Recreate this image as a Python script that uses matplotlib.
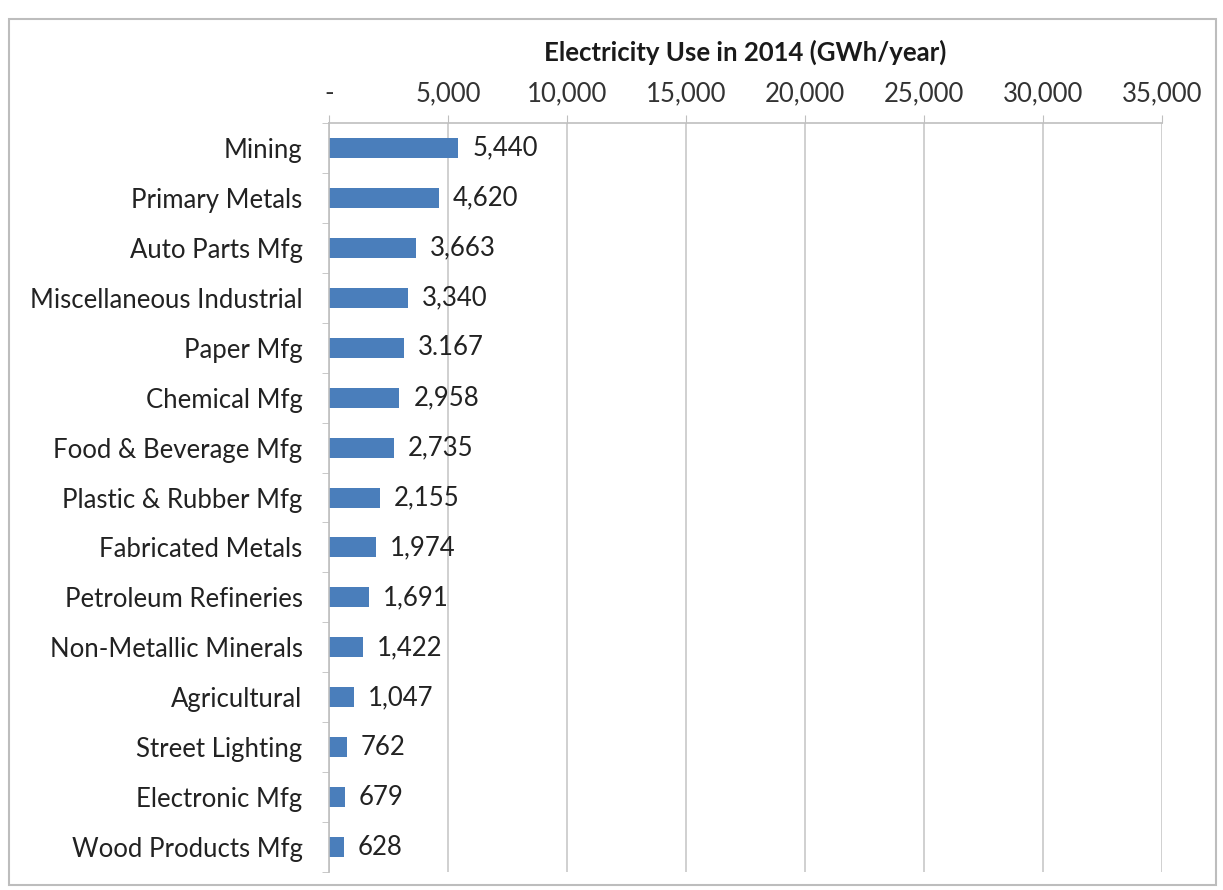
import matplotlib
matplotlib.use("Agg")
import matplotlib.pyplot as plt
from matplotlib.patches import Rectangle
from matplotlib.ticker import FuncFormatter, FixedLocator

# Electricity use by industry in 2014 (GWh/year)
categories = ["Mining", "Primary Metals", "Auto Parts Mfg", "Miscellaneous Industrial",
              "Paper Mfg", "Chemical Mfg", "Food & Beverage Mfg", "Plastic & Rubber Mfg",
              "Fabricated Metals", "Petroleum Refineries", "Non-Metallic Minerals",
              "Agricultural", "Street Lighting", "Electronic Mfg", "Wood Products Mfg"]
values = [5440, 4620, 3663, 3340, 3167, 2958, 2735, 2155, 1974, 1691, 1422, 1047, 762, 679, 628]
value_labels = ["5,440", "4,620", "3,663", "3,340", "3.167", "2,958", "2,735", "2,155",
                "1,974", "1,691", "1,422", "1,047", "762", "679", "628"]
x_ticks = [0, 5000, 10000, 15000, 20000, 25000, 30000, 35000]

plt.rcParams['font.family'] = ['Lato', 'DejaVu Sans']
FS = 18.5

fig = plt.figure(figsize=(12.23, 8.90), dpi=100)
ax = fig.add_axes([0.269, 0.020, 0.681, 0.842])

pos = list(range(len(categories)))
ax.barh(pos, values, height=0.4, color="#4a7ebb")
ax.set_ylim(len(categories) - 0.5, -0.5)
ax.set_xlim(0, 35000)

ax.xaxis.tick_top()
ax.xaxis.set_label_position("top")
ax.set_xticks(x_ticks)
ax.xaxis.set_major_formatter(FuncFormatter(lambda v, p: "-" if v == 0 else f"{int(v):,}"))
ax.set_xlabel("Electricity Use in 2014 (GWh/year)", fontsize=FS, fontweight="bold",
              color="#1a1a1a", labelpad=15)
ax.tick_params(axis="x", length=6, color="#bfbfbf", labelsize=FS, labelcolor="#333333", pad=6)

ax.set_yticks(pos)
ax.set_yticklabels(categories)
ax.tick_params(axis="y", which="major", length=0, labelsize=FS, labelcolor="#222222", pad=19)
ax.yaxis.set_minor_locator(FixedLocator([p + 0.5 for p in pos] + [-0.5]))
ax.tick_params(axis="y", which="minor", length=5, color="#bfbfbf")

ax.grid(axis="x", color="#c8c8c8", linewidth=1.2)
ax.set_axisbelow(True)
for s in ["right", "bottom"]:
    ax.spines[s].set_visible(False)
for s in ["top", "left"]:
    ax.spines[s].set_color("#bfbfbf")
    ax.spines[s].set_linewidth(1.2)

for p, v, lab in zip(pos, values, value_labels):
    ax.annotate(lab, (v, p), xytext=(10, 0), textcoords="offset points",
                va="center", ha="left", fontsize=FS, color="#222222")

fig.patches.append(Rectangle((0.007, 0.006), 0.987, 0.973, transform=fig.transFigure,
                             fill=False, edgecolor="#bdbdbd", linewidth=1.5))

fig.savefig("out.png", dpi=100)
